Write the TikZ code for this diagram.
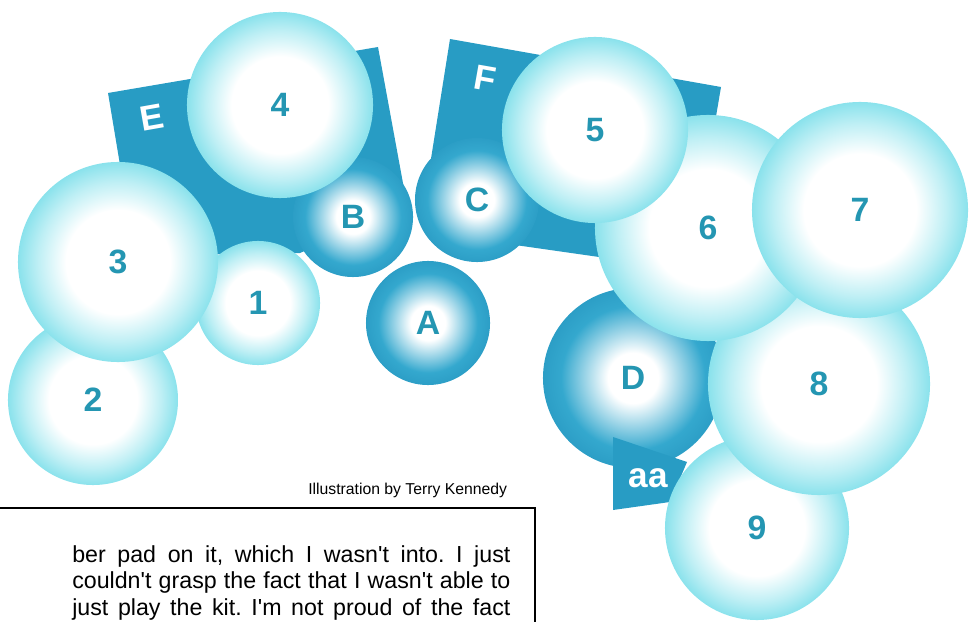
\documentclass[tikz,border=0pt]{standalone}
\usepackage{fontspec}
\setmainfont{Liberation Sans}
\usetikzlibrary{positioning}

\definecolor{drumlight}{RGB}{138,226,236}
\definecolor{drumdark}{RGB}{52,168,206}
\definecolor{drumrim}{RGB}{44,158,198}
\definecolor{panelblue}{RGB}{40,156,196}
\definecolor{labelteal}{RGB}{36,150,178}
\pgfdeclareradialshading{lightglow}{\pgfpointorigin}{color(0bp)=(white); color(13bp)=(white); color(20bp)=(drumlight!55!white); color(25bp)=(drumlight); color(50bp)=(drumlight)}
\pgfdeclareradialshading{darkglow}{\pgfpointorigin}{color(0bp)=(white); color(7bp)=(white); color(20bp)=(drumdark); color(25bp)=(drumrim); color(50bp)=(drumrim)}
\newcommand{\apos}{\textquotesingle}

\begin{document}
\frenchspacing
\begin{tikzpicture}[
    x=0.025cm, y=-0.025cm,
    drum/.style={circle, inner sep=0pt, shading=lightglow, text=labelteal, font=\fontsize{24}{24}\selectfont\bfseries},
    darkdrum/.style={drum, shading=darkglow},
    diam/.style={minimum size=#1*0.05cm},
    panel/.style={fill=panelblue},
    tag/.style={text=white, inner sep=0pt, font=\fontsize{25}{25}\selectfont\bfseries},
    body/.style={anchor=base west, inner sep=0pt, font=\fontsize{16.5}{20}\selectfont}
]
    \useasboundingbox (0,0) rectangle (970,622);

    % rack panels
    \fill[panel] (108,93) -- (378,47) -- (407,205) -- (300,253) -- (170,255) -- (125,195) -- cycle;
    \fill[panel] (450,39) -- (721,87) -- (690,270) -- (480,240) -- (430,165) -- cycle;
    \node[tag, rotate=10] (E) at (152,118) {E};
    \node[tag, rotate=-10] (F) at (485,78) {F};

    % left side
    \node[drum, diam=85] (d2) at (93,400) {2};
    \node[drum, diam=62] (d1) at (258,303) {1};
    \node[drum, diam=100] (d3) at (118,262) {3};
    \node[darkdrum, diam=60] (dB) at (353,217) {B};
    \node[drum, diam=93] (d4) at (280,105) {4};
    \node[darkdrum, diam=62] (dA) at (428,323) {A};
    \node[darkdrum, diam=62] (dC) at (477,200) {C};

    % right side
    \node[darkdrum, diam=90] (dD) at (633,378) {D};
    \fill[panel] (613,437) -- (687,462) -- (670,502) -- (613,510) -- cycle;
    \node[tag] (aa) at (648,478) {aa};
    \node[drum, diam=92] (d9) at (757,528) {9};
    \node[drum, diam=111] (d8) at (819,384) {8};
    \node[drum, diam=113] (d6) at (708,228) {6};
    \node[drum, diam=93] (d5) at (595,130) {5};
    \node[drum, diam=108] (d7) at (860,210) {7};

    % credit and text column
    \node[anchor=base west, inner sep=0pt, font=\fontsize{11.2}{13}\selectfont] (credit) at (308,494) {Illustration by Terry Kennedy};
    \draw[line width=1.4pt] (0,508) -| (535,622);
    \node[body] (line1) at (72,562) {\makebox[10.95cm][s]{ber pad on it, which I wasn\apos t into. I just}};
    \node[body] (line2) at (72,588) {\makebox[10.95cm][s]{couldn\apos t grasp the fact that I wasn\apos t able to}};
    \node[body] (line3) at (72,615) {\makebox[10.95cm][s]{just play the kit. I\apos m not proud of the fact}};
\end{tikzpicture}
\end{document}
